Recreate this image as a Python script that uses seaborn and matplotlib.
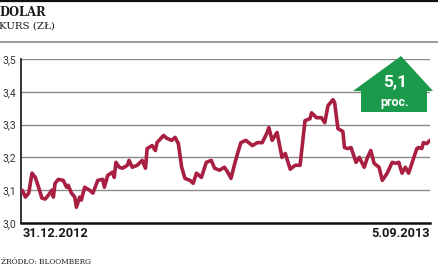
import matplotlib
matplotlib.use("Agg")
import matplotlib.pyplot as plt
from matplotlib.patches import Polygon
from matplotlib.lines import Line2D
import seaborn as sns
import pandas as pd

# ---- data ----
dates = [
    "2012-12-31", "2013-01-02", "2013-01-04", "2013-01-06", "2013-01-08", "2013-01-10",
    "2013-01-12", "2013-01-14", "2013-01-16", "2013-01-18", "2013-01-19", "2013-01-20",
    "2013-01-22", "2013-01-25", "2013-01-27", "2013-01-28", "2013-01-30", "2013-02-01",
    "2013-02-02", "2013-02-04", "2013-02-05", "2013-02-07", "2013-02-10", "2013-02-12",
    "2013-02-15", "2013-02-18", "2013-02-19", "2013-02-21", "2013-02-24", "2013-02-25",
    "2013-02-26", "2013-02-28", "2013-03-02", "2013-03-05", "2013-03-06", "2013-03-08",
    "2013-03-11", "2013-03-14", "2013-03-16", "2013-03-17", "2013-03-20", "2013-03-22",
    "2013-03-23", "2013-03-27", "2013-03-29", "2013-04-01", "2013-04-03", "2013-04-05",
    "2013-04-07", "2013-04-09", "2013-04-12", "2013-04-14", "2013-04-16", "2013-04-19",
    "2013-04-22", "2013-04-25", "2013-04-27", "2013-04-30", "2013-05-03", "2013-05-05",
    "2013-05-07", "2013-05-09", "2013-05-11", "2013-05-13", "2013-05-16", "2013-05-20",
    "2013-05-23", "2013-05-26", "2013-05-29", "2013-05-30", "2013-06-01", "2013-06-04",
    "2013-06-07", "2013-06-09", "2013-06-12", "2013-06-15", "2013-06-18", "2013-06-21",
    "2013-06-24", "2013-06-25", "2013-06-28", "2013-07-01", "2013-07-03", "2013-07-05",
    "2013-07-08", "2013-07-09", "2013-07-11", "2013-07-14", "2013-07-15", "2013-07-17",
    "2013-07-19", "2013-07-22", "2013-07-24", "2013-07-27", "2013-07-29", "2013-07-31",
    "2013-08-02", "2013-08-05", "2013-08-07", "2013-08-10", "2013-08-13", "2013-08-15",
    "2013-08-17", "2013-08-19", "2013-08-21", "2013-08-23", "2013-08-25", "2013-08-28",
    "2013-08-29", "2013-08-31", "2013-09-01", "2013-09-03", "2013-09-05",
]
rates = [
    3.100, 3.079, 3.091, 3.152, 3.139, 3.109,
    3.076, 3.073, 3.085, 3.100, 3.079, 3.121,
    3.133, 3.130, 3.109, 3.115, 3.091, 3.079,
    3.048, 3.079, 3.070, 3.109, 3.100, 3.091,
    3.130, 3.133, 3.109, 3.145, 3.155, 3.139,
    3.185, 3.170, 3.167, 3.176, 3.191, 3.170,
    3.176, 3.191, 3.167, 3.227, 3.236, 3.221,
    3.245, 3.267, 3.258, 3.252, 3.261, 3.242,
    3.170, 3.136, 3.130, 3.121, 3.152, 3.139,
    3.185, 3.191, 3.167, 3.161, 3.170, 3.155,
    3.136, 3.176, 3.212, 3.245, 3.252, 3.236,
    3.245, 3.245, 3.276, 3.291, 3.252, 3.276,
    3.200, 3.212, 3.164, 3.176, 3.176, 3.312,
    3.318, 3.336, 3.321, 3.321, 3.306, 3.358,
    3.376, 3.367, 3.288, 3.279, 3.230, 3.227,
    3.230, 3.185, 3.200, 3.170, 3.200, 3.221,
    3.182, 3.170, 3.130, 3.152, 3.185, 3.182,
    3.185, 3.152, 3.170, 3.152, 3.182, 3.227,
    3.230, 3.227, 3.245, 3.242, 3.252,
]
y_ticks = [3.0, 3.1, 3.2, 3.3, 3.4, 3.5]
y_tick_labels = ["3,0", "3,1", "3,2", "3,3", "3,4", "3,5"]
x_tick_dates = ["2012-12-31", "2013-09-05"]
x_tick_labels = ["31.12.2012", "5.09.2013"]
title = "DOLAR"
subtitle = "KURS (ZŁ)"
source = "ŹRÓDŁO: BLOOMBERG"
badge_value = "5,1"
badge_unit = "proc."

df = pd.DataFrame({"date": pd.to_datetime(dates), "rate": rates})

sns.set_theme(style="white")
plt.rcParams["font.family"] = ["Roboto", "DejaVu Sans"]

W, H = 439, 268
fig = plt.figure(figsize=(W / 100, H / 100), dpi=100)
fig.patch.set_facecolor("white")

ax = fig.add_axes([21 / W, (H - 223) / H, (430 - 21) / W, (223 - 59) / H])
ax.set_facecolor("white")

sns.lineplot(data=df, x="date", y="rate", ax=ax, color="#a81f42",
             linewidth=2.6, zorder=3)

ax.set_ylim(3.0, 3.5)
ax.set_xlim(pd.Timestamp("2012-12-31") - pd.Timedelta(days=0.7),
            pd.Timestamp("2013-09-05") - pd.Timedelta(days=0.5))
ax.set_yticks(y_ticks)
ax.set_yticklabels(y_tick_labels)
ax.yaxis.grid(True, color="#8a8a8a", linewidth=1.0)
ax.xaxis.grid(False)
ax.set_axisbelow(True)

ax.set_xticks(pd.to_datetime(x_tick_dates))
ax.set_xticklabels(x_tick_labels, fontsize=9.2, fontweight="bold", color="#1a1a1a")
xl = ax.get_xticklabels()
xl[0].set_ha("left")
xl[1].set_ha("right")
ax.tick_params(axis="x", length=0, pad=3)
ax.tick_params(axis="y", length=0, pad=3.5, labelsize=7.5, labelcolor="#333333")

ax.set_xlabel("")
ax.set_ylabel("")
for s in ["top", "right"]:
    ax.spines[s].set_visible(False)
ax.spines["left"].set_color("#111111")
ax.spines["left"].set_linewidth(1.2)
ax.spines["bottom"].set_color("#111111")
ax.spines["bottom"].set_linewidth(1.8)

# green arrow badge (figure pixel coordinates)
def fp(x, y):
    return (x / W, 1 - y / H)

arrow_pts = [fp(401, 56), fp(433, 91), fp(427, 91), fp(427, 112),
             fp(361, 112), fp(361, 91), fp(353, 91)]
fig.add_artist(Polygon(arrow_pts, closed=True, transform=fig.transFigure,
                       facecolor="#1c9a4c", edgecolor="none", zorder=5))
fig.text(395 / W, 1 - 82 / H, badge_value, ha="center", va="center",
         fontsize=12.5, fontweight="bold", color="white", zorder=6)
fig.text(395 / W, 1 - 103 / H, badge_unit, ha="center", va="center",
         fontsize=9, fontweight="bold", color="white", zorder=6)

# header
fig.add_artist(Line2D([0, 1], [1 - 0.8 / H, 1 - 0.8 / H], transform=fig.transFigure,
                      color="#111111", linewidth=1.6))
fig.add_artist(Line2D([0, 1], [1 - 41.5 / H, 1 - 41.5 / H], transform=fig.transFigure,
                      color="#9a9a9a", linewidth=1.4))
fig.text(-1 / W, 1 - 13 / H, title, ha="left", va="center",
         fontsize=8.3, fontweight="bold", family=["DejaVu Serif"], color="#1a1a1a")
fig.text(-1 / W, 1 - 26 / H, subtitle, ha="left", va="center",
         fontsize=7.4, family=["DejaVu Serif"], color="#1a1a1a")
fig.text(1 / W, 1 - 261.5 / H, source, ha="left", va="center",
         fontsize=5.3, family=["DejaVu Serif"], color="#1a1a1a")

fig.savefig("out.png", dpi=100, facecolor="white")
